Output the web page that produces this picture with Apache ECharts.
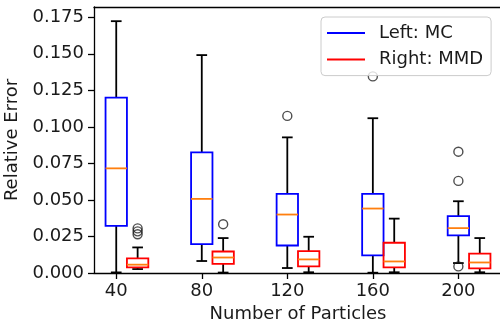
<!DOCTYPE html>
<html>
<head>
<meta charset="utf-8">
<script src="https://cdn.jsdelivr.net/npm/echarts@6/dist/echarts.min.js"></script>
<style>
html,body{margin:0;padding:0;background:#fff;}
#chart{width:500px;height:322px;}
</style>
</head>
<body>
<div id="chart"></div>
<script>
// ---- data ----
var xTicks = [40, 80, 120, 160, 200];
var yTicks = [0, 0.025, 0.05, 0.075, 0.1, 0.125, 0.15, 0.175];
var mcPos  = [40, 80, 120, 160, 200];
var mmdPos = [50, 90, 130, 170, 210];

var mcMin = [0.0004, 0.0082, 0.0034, 0.0002, 0.0068];
var mcQ1  = [0.0323, 0.0198, 0.0188, 0.0120, 0.0257];
var mcMed = [0.0716, 0.0507, 0.0400, 0.0441, 0.0307];
var mcQ3  = [0.1200, 0.0825, 0.0541, 0.0541, 0.0389];
var mcMax = [0.1723, 0.1491, 0.0928, 0.1059, 0.0491];

var mmdMin = [0.0027, 0.0003, 0.0005, 0.0005, 0.0005];
var mmdQ1  = [0.0038, 0.0063, 0.0045, 0.0038, 0.0031];
var mmdMed = [0.0057, 0.0106, 0.0093, 0.0079, 0.0072];
var mmdQ3  = [0.0100, 0.0147, 0.0150, 0.0207, 0.0132];
var mmdMax = [0.0175, 0.0239, 0.0248, 0.0372, 0.0239];

var mcOutX  = [120, 160, 200, 200, 200];
var mcOutY  = [0.1075, 0.1345, 0.0830, 0.0630, 0.0045];
var mmdOutX = [50, 50, 50, 90];
var mmdOutY = [0.0305, 0.0285, 0.0265, 0.0334];

// ---- build ----
function rows(pos, mn, q1, md, q3, mx) {
  return pos.map(function (p, i) { return [p, mn[i], q1[i], md[i], q3[i], mx[i]]; });
}
function pts(xs, ys) { return xs.map(function (x, i) { return [x, ys[i]]; }); }

var BOX_W = 10;
var LW = 1.8;
function makeRender(boxColor) {
  return function (params, api) {
    var x = api.value(0);
    var w = api.size([BOX_W, 0])[0];
    var pMin = api.coord([x, api.value(1)]);
    var pQ1 = api.coord([x, api.value(2)]);
    var pMed = api.coord([x, api.value(3)]);
    var pQ3 = api.coord([x, api.value(4)]);
    var pMax = api.coord([x, api.value(5)]);
    var cx = pMed[0];
    var blk = { stroke: '#000', lineWidth: LW };
    return {
      type: 'group',
      children: [
        { type: 'line', shape: { x1: cx, y1: pQ1[1], x2: cx, y2: pMin[1] }, style: blk },
        { type: 'line', shape: { x1: cx, y1: pQ3[1], x2: cx, y2: pMax[1] }, style: blk },
        { type: 'line', shape: { x1: cx - w / 4, y1: pMin[1], x2: cx + w / 4, y2: pMin[1] }, style: blk },
        { type: 'line', shape: { x1: cx - w / 4, y1: pMax[1], x2: cx + w / 4, y2: pMax[1] }, style: blk },
        { type: 'rect', shape: { x: cx - w / 2, y: pQ3[1], width: w, height: pQ1[1] - pQ3[1] },
          style: { fill: 'none', stroke: boxColor, lineWidth: LW } },
        { type: 'line', shape: { x1: cx - w / 2, y1: pMed[1], x2: cx + w / 2, y2: pMed[1] },
          style: { stroke: '#ff7f0e', lineWidth: LW } }
      ]
    };
  };
}

var FONT = 'DejaVu Sans';
var TXT = '#1a1a1a';
var chart = echarts.init(document.getElementById('chart'), null, { renderer: 'canvas' });
var xMin = 29.6, xMax = 220.4;
chart.setOption({
  animation: false,
  backgroundColor: '#fff',
  textStyle: { fontFamily: FONT },
  grid: { left: 94, right: -2, top: 7, bottom: 49, containLabel: false, outerBoundsMode: 'none' },
  legend: {
    left: 321, top: 17,
    orient: 'vertical',
    padding: [7, 8, 7, 6],
    itemGap: 8.6,
    itemWidth: 38, itemHeight: 2,
    borderColor: '#cccccc', borderWidth: 1, borderRadius: 4,
    backgroundColor: 'rgba(255,255,255,0.8)',
    textStyle: { fontFamily: FONT, fontSize: 18, color: TXT, padding: [0, 0, 0, 9] },
    data: [
      { name: 'Left: MC', icon: 'rect', itemStyle: { color: '#0000ff', borderWidth: 0 } },
      { name: 'Right: MMD', icon: 'rect', itemStyle: { color: '#ff0000', borderWidth: 0 } }
    ],
    z: 10
  },
  xAxis: [{
    type: 'value', min: xMin, max: xMax, position: 'bottom',
    name: 'Number of Particles', nameLocation: 'middle', nameGap: 30,
    nameTextStyle: { fontFamily: FONT, fontSize: 18, color: TXT },
    axisLine: { show: true, lineStyle: { color: '#000', width: 1.3 } },
    axisTick: { show: true, length: 6, lineStyle: { color: '#000', width: 1.3 }, customValues: xTicks },
    axisLabel: { fontFamily: FONT, fontSize: 18, color: TXT, margin: 9, customValues: xTicks },
    splitLine: { show: false }
  }, {
    type: 'value', min: xMin, max: xMax, position: 'top',
    axisLine: { show: true, lineStyle: { color: '#000', width: 1.3 } },
    axisTick: { show: false }, axisLabel: { show: false }, splitLine: { show: false }
  }],
  yAxis: {
    type: 'value', min: 0, max: 0.182,
    name: 'Relative Error', nameLocation: 'middle', nameGap: 66,
    nameTextStyle: { fontFamily: FONT, fontSize: 18, color: TXT },
    axisLine: { show: true, lineStyle: { color: '#000', width: 1.3 } },
    axisTick: { show: true, length: 6, lineStyle: { color: '#000', width: 1.3 }, customValues: yTicks },
    axisLabel: { fontFamily: FONT, fontSize: 18, color: TXT, margin: 10, customValues: yTicks,
      formatter: function (v) { return v.toFixed(3); } },
    splitLine: { show: false }
  },
  series: [
    { name: 'Left: MC', type: 'custom', renderItem: makeRender('#0000ff'),
      data: rows(mcPos, mcMin, mcQ1, mcMed, mcQ3, mcMax),
      encode: { x: 0, y: [1, 2, 3, 4, 5] }, z: 2 },
    { name: 'Right: MMD', type: 'custom', renderItem: makeRender('#ff0000'),
      data: rows(mmdPos, mmdMin, mmdQ1, mmdMed, mmdQ3, mmdMax),
      encode: { x: 0, y: [1, 2, 3, 4, 5] }, z: 2 },
    { name: 'mcOut', type: 'scatter', symbol: 'circle', symbolSize: 9,
      itemStyle: { color: 'rgba(0,0,0,0)', borderColor: '#222', borderWidth: 1.4 },
      data: pts(mcOutX, mcOutY), z: 3 },
    { name: 'mmdOut', type: 'scatter', symbol: 'circle', symbolSize: 9,
      itemStyle: { color: 'rgba(0,0,0,0)', borderColor: '#222', borderWidth: 1.4 },
      data: pts(mmdOutX, mmdOutY), z: 3 }
  ]
});
</script>
</body>
</html>
